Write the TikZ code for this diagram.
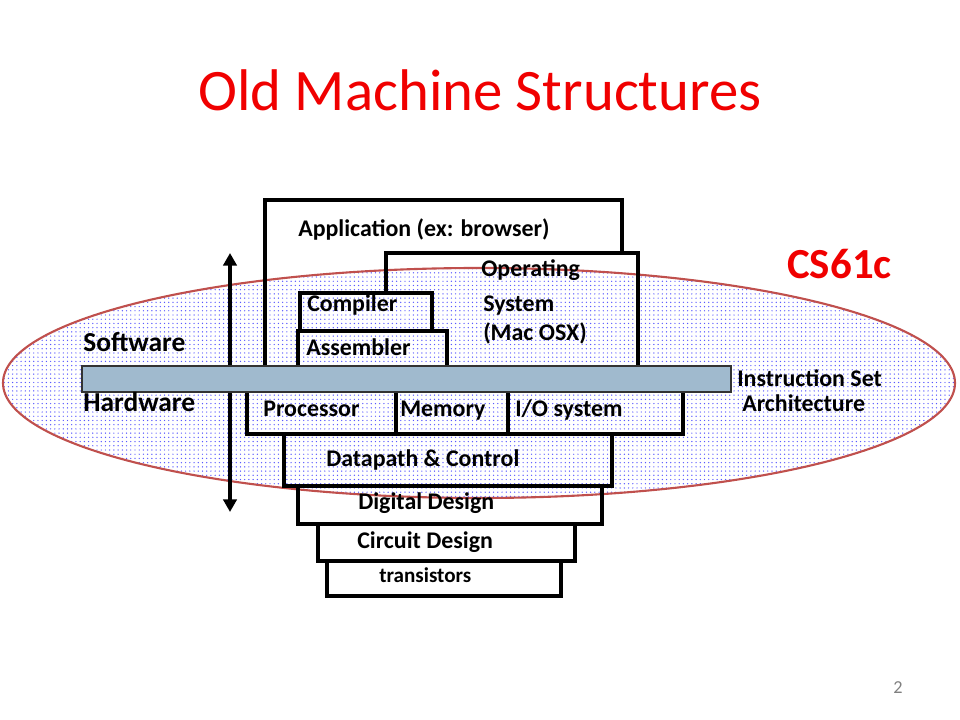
\documentclass[tikz,border=0pt]{standalone}
\usepackage{fontspec}
\setmainfont{Carlito}
\usetikzlibrary{patterns,arrows.meta}
\definecolor{ovalred}{RGB}{192,80,77}
\definecolor{isablue}{RGB}{160,186,206}
\definecolor{titlered}{RGB}{240,0,0}
\tikzset{
  layer/.style={line width=2.2pt},
  lbl/.style={anchor=base west,inner sep=0pt,font=\fontsize{17}{19}\selectfont\bfseries},
  side/.style={anchor=base west,inner sep=0pt,font=\fontsize{19.5}{21}\selectfont\bfseries}
}
\begin{document}
\begin{tikzpicture}[x=0.025cm,y=-0.025cm]
\useasboundingbox (0,0) rectangle (960,720);

\node [anchor=base,inner sep=0pt,text=titlered,font=\fontsize{41.8}{44}\selectfont] (title) at (480,111) {Old Machine Structures};

% the cs61c oval
\draw [pattern=dots,pattern color=blue!65] (479,383) ellipse [x radius=476,y radius=115];
\draw [ovalred,line width=1.5pt] (479,383) ellipse [x radius=476,y radius=115];

% software side
\draw [layer] (265,366) -- (265,200) -- (622,200) -- (622,253);
\draw [layer] (386,293) -- (386,253) -- (638,253) -- (638,366);
\draw [layer] (300,331) -- (300,293) -- (432,293) -- (432,331);
\draw [layer] (298,366) -- (298,331) -- (447,331) -- (447,366);

% hardware side
\draw [layer] (247,392) -- (247,434) -- (683,434) -- (683,392);
\foreach \x in {396,508}
{\draw [layer] (\x,392) -- (\x,434);}

\foreach \l/\r/\t/\b in {284/612/434/486, 298/602/486/524, 318/575/524/561, 327/561/561/596}
{\draw [layer] (\l,\t) rectangle (\r,\b);}

\coordinate (swtop) at (230,253);
\coordinate (hwbot) at (230,512);
\draw [line width=2.6pt,{Triangle[width=9.5pt,length=9pt]}-{Triangle[width=9.5pt,length=9pt]}] (swtop) -- (hwbot);

% instruction set architecture
\draw [fill=isablue,draw=black!80,line width=0.8pt] (82,366) rectangle (731,392);

\node [lbl] (app) at (298,237) {Application (ex: browser)};
\node [lbl] (os1) at (481,277) {Operating};
\node [lbl] (os2) at (483,312) {System};
\node [lbl] (os3) at (483,341) {(Mac OSX)};
\node [lbl] (comp) at (307,312) {Compiler};
\node [lbl] (asm) at (306,356) {Assembler};

\node [side] (sw) at (83,352) {Software};
\node [side] (hw) at (83,412) {Hardware};

\node [lbl] (proc) at (263,417) {Processor};
\node [lbl] (mem) at (400,417) {Memory};
\node [lbl] (io) at (515,417) {I/O system};
\node [lbl] (dp) at (326,467) {Datapath \& Control};
\node [lbl] (dd) at (358,510) {Digital Design};
\node [lbl] (cd) at (357,548) {Circuit Design};
\node [lbl,font=\fontsize{15}{16}\selectfont\bfseries] (tr) at (379,582) {transistors};

\node [lbl] (isa1) at (737,387) {Instruction Set};
\node [lbl] (isa2) at (742,412) {Architecture};

\node [anchor=base west,inner sep=0pt,text=titlered,font=\fontsize{30.5}{32}\selectfont\bfseries] (cs) at (787,279) {CS61c};

\node [anchor=base,inner sep=0pt,text=gray,font=\fontsize{13}{14}\selectfont] (page) at (898,693) {2};

\end{tikzpicture}
\end{document}
